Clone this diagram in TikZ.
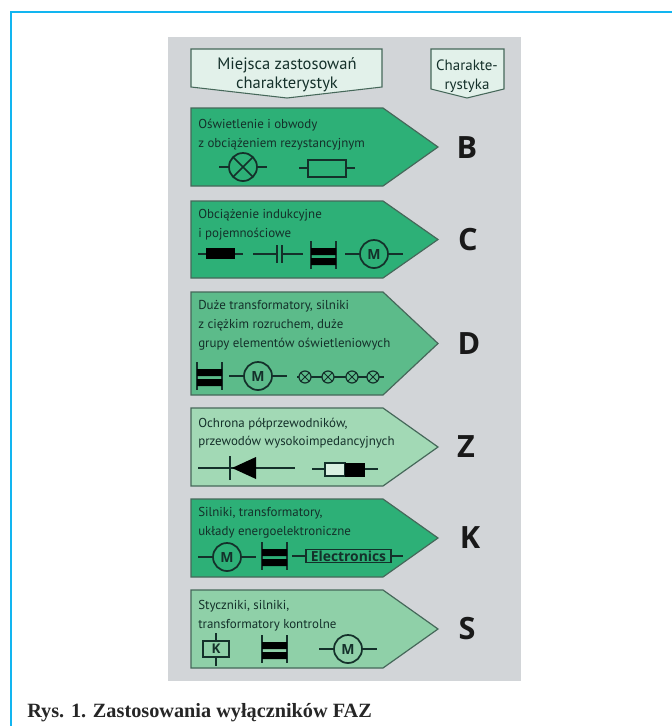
\documentclass[tikz,border=0pt]{standalone}
\usepackage{fontspec}
\setmainfont{PT Sans}
\newfontfamily\capfont{Liberation Serif}
\newfontfamily\letfont{Open Sans}
\usetikzlibrary{positioning}
\definecolor{framecol}{HTML}{12B5F0}
\definecolor{panelcol}{HTML}{D2D5D8}
\definecolor{edgecol}{HTML}{46685A}
\definecolor{inkcol}{HTML}{14302A}
\definecolor{headcol}{HTML}{E2F1EA}
\definecolor{strongcol}{HTML}{2DB077}
\definecolor{midcol}{HTML}{5CBB8A}
\definecolor{palecol}{HTML}{A2D9B5}
\definecolor{softcol}{HTML}{8FD0A8}

\begin{document}
\begin{tikzpicture}[
      x=0.75pt, y=-0.75pt,
      tag/.style={draw=edgecol,line width=0.9pt},
      head/.style={draw=edgecol,line width=0.8pt,fill=headcol},
      headtxt/.style={inkcol,align=center,font=\fontsize{12.4}{14.2}\selectfont},
      desc/.style={inkcol,align=left,anchor=north west,inner sep=0pt,font=\fontsize{9.7}{14}\selectfont},
      grade/.style={font=\letfont\bfseries\fontsize{23}{23}\selectfont,black!90},
      lead/.style={draw=inkcol,line width=1.3pt},
      motor/.pic={
        \draw[lead] (-29,0) -- (-13,0) (13,0) -- (29,0);
        \draw[lead] (0,0) circle (14);
        \node[inkcol,inner sep=0pt,font=\letfont\bfseries\fontsize{10.5}{10.5}\selectfont] (-m) at (0,0) {M};
      },
      contactor/.pic={
        \draw[lead] (0,0) -- (0,28) (25,0) -- (25,28);
        \fill[black] (0,7) rectangle (25,14) (0,17) rectangle (25,24);
      },
      lamp/.pic={
        \draw[lead,line width=0.9pt] (0,0) circle (6);
        \draw[lead,line width=0.7pt] (-4.2,-4.2) -- (4.2,4.2) (-4.2,4.2) -- (4.2,-4.2);
      },
    ]
    \useasboundingbox (0,0) rectangle (672,726);
    \fill[white] (0,0) rectangle (672,726);
    \draw[framecol,line width=1.9pt] (11.2,726) -- (11.2,12.2) -- (672,12.2);
    \fill[panelcol] (168,37) rectangle (521,681);

    \draw[head] (191,49) -- (382,49) -- (382,87) -- (287,98) -- (191,87) -- cycle;
    \draw[head] (431,49) -- (504,49) -- (504,89) -- (467,98) -- (431,89) -- cycle;
    \node[headtxt] (headl) at (287,75) {Miejsca zastosowań\\charakterystyk};
    \node[headtxt,font=\fontsize{11.2}{14.2}\selectfont] (headr) at (467,76) {Charakte-\\rystyka};

    \foreach \ya/\yb/\col in {108/186/strongcol,201/278/strongcol,292/395/midcol,408/486/palecol,499/577/strongcol,590/668/softcol} {
      \draw[tag,fill=\col] (191,\ya) -- (383,\ya) -- (438,{(\ya+\yb)/2}) -- (383,\yb) -- (191,\yb) -- cycle;
    }

    \node[desc] (descb) at (198,119) {Oświetlenie i obwody\\z obciążeniem rezystancyjnym};
    \node[desc] (descc) at (198,209) {Obciążenie indukcyjne\\i pojemnościowe};
    \node[desc] (descd) at (198,300.5) {Duże transformatory, silniki\\z ciężkim rozruchem, duże\\grupy elementów oświetleniowych};
    \node[desc] (descz) at (198,417.5) {Ochrona półprzewodników,\\przewodów wysokoimpedancyjnych};
    \node[desc] (desck) at (198,507.5) {Silniki, transformatory,\\układy energoelektroniczne};
    \node[desc] (descs) at (198,600.5) {Styczniki, silniki,\\transformatory kontrolne};

    \node[grade] (gradeb) at (467,148) {B};
    \node[grade] (gradec) at (468,240) {C};
    \node[grade] (graded) at (469,344) {D};
    \node[grade] (gradez) at (466,447) {Z};
    \node[grade] (gradek) at (470,538) {K};
    \node[grade] (grades) at (467,629) {S};

    % B
    \draw[lead] (219,167) -- (229,167) (257,167) -- (267,167);
    \draw[lead] (243,167) circle (14);
    \draw[lead] (233,157) -- (253,177) (233,177) -- (253,157);
    \draw[lead] (299,168) -- (308,168) (346,168) -- (355,168);
    \draw[lead] (308,160) rectangle (346,177);

    % C
    \draw[lead] (198,254) -- (243,254);
    \fill[black] (206,248) rectangle (235,259);
    \draw[lead] (253,254) -- (277,254) (282,254) -- (303,254);
    \draw[lead] (277,245) -- (277,263) (282,245) -- (282,263);
    \pic at (311,241) {contactor};
    \pic at (374,254) {motor};

    % D
    \pic at (197,362) {contactor};
    \pic at (258,376) {motor};
    \draw[lead] (297,377) -- (384,377);
    \foreach \x in {305,328,352,373} {
      \fill[midcol] (\x,377) circle (6);
      \pic at (\x,377) {lamp};
    }

    % Z
    \draw[lead] (198,468) -- (295,468);
    \draw[lead] (230,456) -- (230,480);
    \fill[black] (232,468) -- (256,457) -- (256,479) -- cycle;
    \draw[lead] (312,469) -- (325,469) (365,469) -- (378,469);
    \draw[lead,fill=palecol!40] (325,463) rectangle (345,476);
    \fill[black] (345,462.5) rectangle (365,476.5);

    % K
    \pic at (227,557) {motor};
    \pic at (262,542) {contactor};
    \draw[lead] (292,556) -- (306,556) (391,556) -- (403,556);
    \node[draw=inkcol,line width=1.3pt,inner sep=0pt,minimum width=85*0.75pt,minimum height=13*0.75pt,inkcol,font=\letfont\bfseries\fontsize{10.4}{10.4}\selectfont] (elec) at (348.5,556) {Electronics};

    % S
    \draw[lead] (216,633) -- (216,641) (216,657) -- (216,666);
    \node[draw=inkcol,line width=1.3pt,inner sep=0pt,minimum width=26*0.75pt,minimum height=16*0.75pt,inkcol,font=\letfont\bfseries\fontsize{10}{10}\selectfont] (relay) at (216,649) {K};
    \pic at (262,635) {contactor};
    \pic at (348,649) {motor};

    \node[anchor=base west,inner sep=0pt,black!85,font=\capfont\bfseries\fontsize{15.2}{16}\selectfont] (caption) at (27,717) {Rys. 1. Zastosowania wyłączników FAZ};
  \end{tikzpicture}
\end{document}
